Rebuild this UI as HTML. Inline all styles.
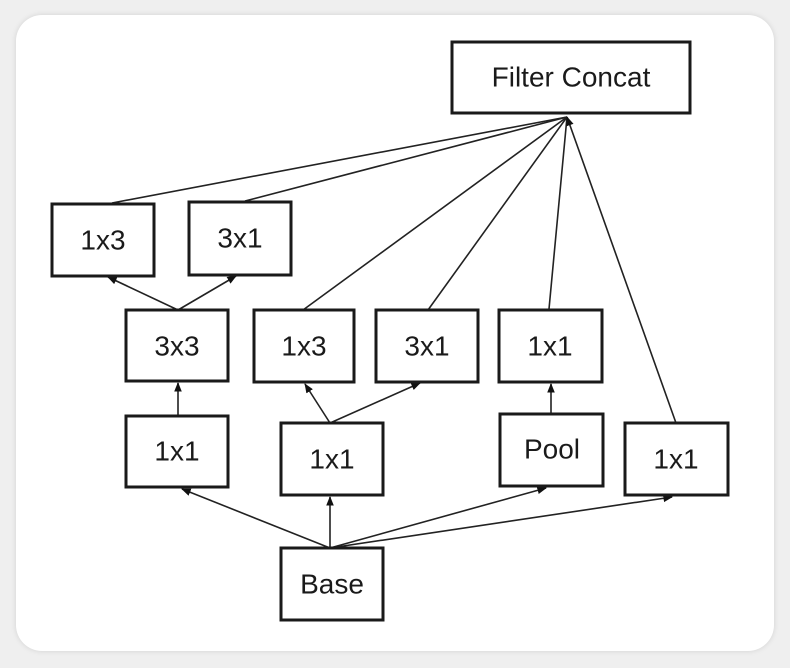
<!DOCTYPE html>
<html><head><style>
html,body{margin:0;padding:0;background:#efefef;}
body{width:790px;height:668px;position:relative;overflow:hidden;}
.card{position:absolute;left:16px;top:15px;width:758px;height:636px;background:#fff;border-radius:26px;box-shadow:0 0 6px rgba(0,0,0,0.12);}
svg{position:absolute;left:0;top:0;}
text{font-family:"Liberation Sans",sans-serif;font-size:28px;fill:#1a1a1a;text-anchor:middle;dominant-baseline:central;}
rect{fill:#fff;stroke:#1a1a1a;stroke-width:3;}
line{stroke:#222;stroke-width:1.6;}
</style></head><body>
<div class="card"></div>
<svg width="790" height="668" viewBox="0 0 790 668">
<defs><marker id="a" viewBox="0 0 10 10" refX="9" refY="5" markerWidth="6" markerHeight="6" orient="auto"><path d="M0,1 L10,5 L0,9 z" fill="#111"/></marker></defs>
<g>
<line x1="112" y1="203" x2="567" y2="117"/>
<line x1="245" y1="201" x2="567" y2="117"/>
<line x1="303" y1="310" x2="567" y2="117"/>
<line x1="428" y1="310" x2="567" y2="117"/>
<line x1="549" y1="309" x2="567" y2="117"/>
<line x1="676" y1="423" x2="567" y2="117" marker-end="url(#a)"/>
<line x1="178" y1="310" x2="108" y2="277" marker-end="url(#a)"/>
<line x1="178" y1="310" x2="236" y2="276" marker-end="url(#a)"/>
<line x1="178" y1="416" x2="178" y2="383" marker-end="url(#a)"/>
<line x1="330" y1="423" x2="305" y2="384" marker-end="url(#a)"/>
<line x1="330" y1="423" x2="420" y2="383" marker-end="url(#a)"/>
<line x1="551" y1="414" x2="551" y2="384" marker-end="url(#a)"/>
<line x1="330" y1="548" x2="182" y2="489" marker-end="url(#a)"/>
<line x1="330" y1="548" x2="330" y2="497" marker-end="url(#a)"/>
<line x1="330" y1="548" x2="546" y2="488" marker-end="url(#a)"/>
<line x1="330" y1="548" x2="672" y2="497" marker-end="url(#a)"/>
</g>
<rect x="452" y="42" width="238" height="71"/><text x="571" y="77">Filter Concat</text>
<rect x="52" y="204" width="102" height="72"/><text x="103" y="240">1x3</text>
<rect x="189" y="202" width="102" height="73"/><text x="240" y="238">3x1</text>
<rect x="126" y="310" width="102" height="71"/><text x="177" y="346">3x3</text>
<rect x="254" y="310" width="100" height="72"/><text x="304" y="346">1x3</text>
<rect x="376" y="310" width="102" height="72"/><text x="427" y="346">3x1</text>
<rect x="499" y="310" width="103" height="72"/><text x="550" y="346">1x1</text>
<rect x="126" y="416" width="102" height="71"/><text x="177" y="451">1x1</text>
<rect x="281" y="423" width="102" height="72"/><text x="332" y="459">1x1</text>
<rect x="500" y="414" width="103" height="72"/><text x="552" y="449">Pool</text>
<rect x="625" y="423" width="103" height="72"/><text x="676" y="459">1x1</text>
<rect x="281" y="548" width="102" height="72"/><text x="332" y="584">Base</text>
</svg>
</body></html>
